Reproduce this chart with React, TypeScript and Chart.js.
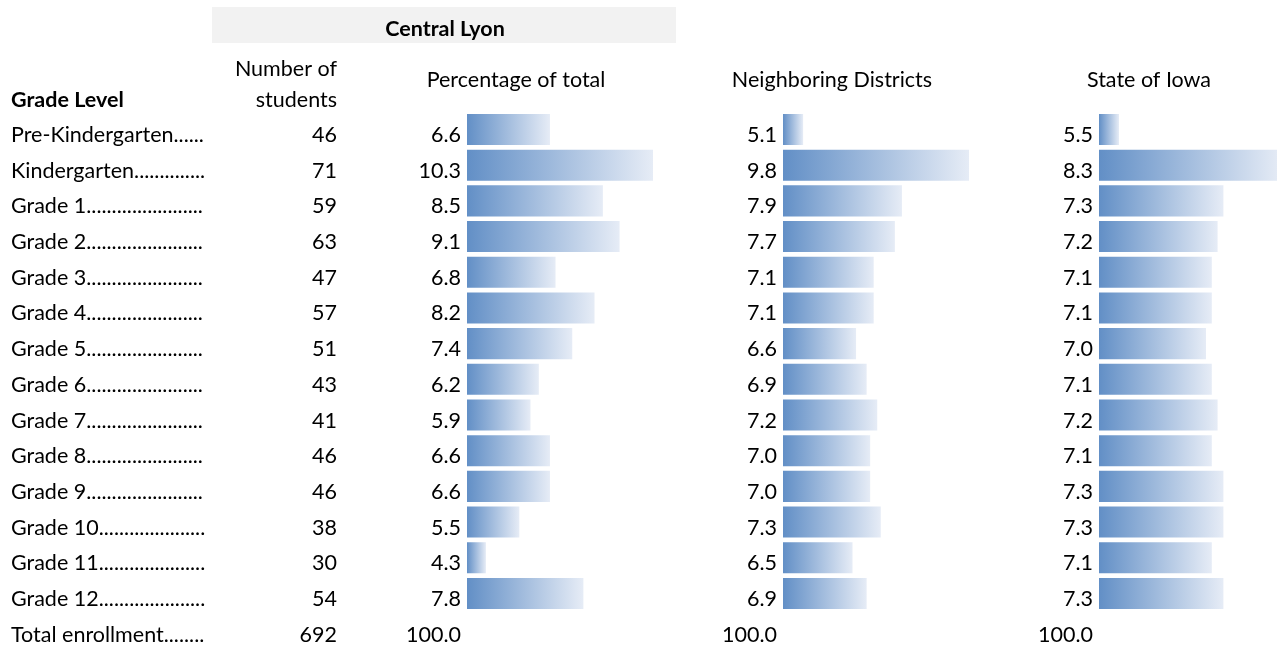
import { useEffect, useRef } from "react";
import { Chart, registerables } from "chart.js";

Chart.register(...registerables);

// ---- data ----
const grades = [
  "Pre-Kindergarten",
  "Kindergarten",
  "Grade 1",
  "Grade 2",
  "Grade 3",
  "Grade 4",
  "Grade 5",
  "Grade 6",
  "Grade 7",
  "Grade 8",
  "Grade 9",
  "Grade 10",
  "Grade 11",
  "Grade 12",
];
const totalLabel = "Total enrollment";
const students = [46, 71, 59, 63, 47, 57, 51, 43, 41, 46, 46, 38, 30, 54];
const studentsTotal = 692;
const pctCentral = [6.6, 10.3, 8.5, 9.1, 6.8, 8.2, 7.4, 6.2, 5.9, 6.6, 6.6, 5.5, 4.3, 7.8];
const pctNeighbor = [5.1, 9.8, 7.9, 7.7, 7.1, 7.1, 6.6, 6.9, 7.2, 7.0, 7.0, 7.3, 6.5, 6.9];
const pctState = [5.5, 8.3, 7.3, 7.2, 7.1, 7.1, 7.0, 7.1, 7.2, 7.1, 7.3, 7.3, 7.1, 7.3];
const pctTotal = 100.0;
const districtTitle = "Central Lyon";
const colTitles = ["Percentage of total", "Neighboring Districts", "State of Iowa"];
const gradeHeader = "Grade Level";
const studentsHeader = ["Number of", "students"];

// ---- styles / layout ----
const W = 1277;
const H = 647;
const FONT = "Lato, 'Open Sans', sans-serif";
const FS = 21.5;
const TEXT = "#000000";
const BAR_L = "#628fc6";
const BAR_R = "#e6ecf6";
const HEADER_BG = "#f2f2f2";
const AREA_TOP = 111.65;
const BASE_OFF = 12.5;

const rowLabels = [...grades, totalLabel];

type Col = {
  values: number[];
  title: string;
  left: number;
  right: number;
  min: number;
  max: number;
  titleX: number;
};

const cols: Col[] = [
  { values: pctCentral, title: colTitles[0], left: 467, right: 653, min: 3.62, max: 10.3, titleX: 516 },
  { values: pctNeighbor, title: colTitles[1], left: 783, right: 969, min: 4.53, max: 9.8, titleX: 832 },
  { values: pctState, title: colTitles[2], left: 1099, right: 1277, min: 5.155, max: 8.224, titleX: 1149 },
];

function textPlugin(col: Col, k: number) {
  return {
    id: "tableText" + k,
    beforeDraw(chart: any) {
      if (k !== 0) return;
      const c = chart.ctx;
      c.save();
      c.fillStyle = HEADER_BG;
      c.fillRect(212, 7, 464, 36);
      c.restore();
    },
    afterDraw(chart: any) {
      const c = chart.ctx as CanvasRenderingContext2D;
      const y = chart.scales.y;
      c.save();
      c.fillStyle = TEXT;
      c.textBaseline = "alphabetic";
      c.font = `${FS}px ${FONT}`;
      // value labels
      c.textAlign = "right";
      rowLabels.forEach((_, i) => {
        const yy = y.getPixelForValue(i) + BASE_OFF;
        const txt = i < col.values.length ? col.values[i].toFixed(1) : pctTotal.toFixed(1);
        c.fillText(txt, col.left - 6, yy);
      });
      // column header
      c.textAlign = "center";
      c.fillText(col.title, col.titleX, 87);

      if (k === 0) {
        // grade labels with dot leaders
        c.textAlign = "left";
        const maxW = 206 - 11;
        rowLabels.forEach((lab, i) => {
          const yy = y.getPixelForValue(i) + BASE_OFF;
          let s = lab;
          while (c.measureText(s + ".").width <= maxW) s += ".";
          c.fillText(s, 11, yy);
        });
        // students
        c.textAlign = "right";
        rowLabels.forEach((_, i) => {
          const yy = y.getPixelForValue(i) + BASE_OFF;
          const v = i < students.length ? students[i] : studentsTotal;
          c.fillText(String(v), 337, yy);
        });
        c.fillText(studentsHeader[0], 337, 76);
        c.fillText(studentsHeader[1], 337, 107);
        // bold headers
        c.font = `bold ${FS}px ${FONT}`;
        c.textAlign = "left";
        c.fillText(gradeHeader, 11, 107);
        c.textAlign = "center";
        c.fillText(districtTitle, 445, 36);
      }
      c.restore();
    },
  };
}

function makeConfig(col: Col, k: number): any {
  return {
    type: "bar",
    data: {
      labels: rowLabels,
      datasets: [
        {
          data: [...col.values, null],
          backgroundColor: (ctx: any) => {
            const chart = ctx.chart;
            const area = chart.chartArea;
            const v = ctx.raw;
            if (!area || typeof v !== "number" || !chart.scales.x) return BAR_L;
            const x1 = chart.scales.x.getPixelForValue(v);
            const g = chart.ctx.createLinearGradient(area.left, 0, Math.max(x1, area.left + 1), 0);
            g.addColorStop(0, BAR_L);
            g.addColorStop(1, BAR_R);
            return g;
          },
          borderWidth: 0,
          categoryPercentage: 0.87,
          barPercentage: 1,
        },
      ],
    },
    options: {
      indexAxis: "y",
      responsive: false,
      animation: false,
      events: [],
      layout: { padding: { left: col.left, right: W - col.right, top: AREA_TOP, bottom: 0 } },
      plugins: { legend: { display: false }, tooltip: { enabled: false } },
      scales: {
        x: {
          type: "linear",
          display: false,
          min: col.min,
          max: col.max,
          beginAtZero: false,
          grid: { display: false },
        },
        y: { type: "category", display: false, grid: { display: false } },
      },
    },
    plugins: [textPlugin(col, k)],
  };
}

export default function App() {
  const r0 = useRef<HTMLCanvasElement>(null);
  const r1 = useRef<HTMLCanvasElement>(null);
  const r2 = useRef<HTMLCanvasElement>(null);
  const refs = [r0, r1, r2];

  useEffect(() => {
    const charts = cols.map((col, k) => new Chart(refs[k].current as HTMLCanvasElement, makeConfig(col, k)));
    return () => charts.forEach((ch) => ch.destroy());
  }, []);

  return (
    <div style={{ position: "fixed", left: 0, top: 0, width: W, height: H, background: "#ffffff", overflow: "hidden" }}>
      {cols.map((_, k) => (
        <canvas
          key={k}
          ref={refs[k]}
          width={W}
          height={H}
          style={{ position: "absolute", left: 0, top: 0, width: W, height: H }}
        />
      ))}
    </div>
  );
}
